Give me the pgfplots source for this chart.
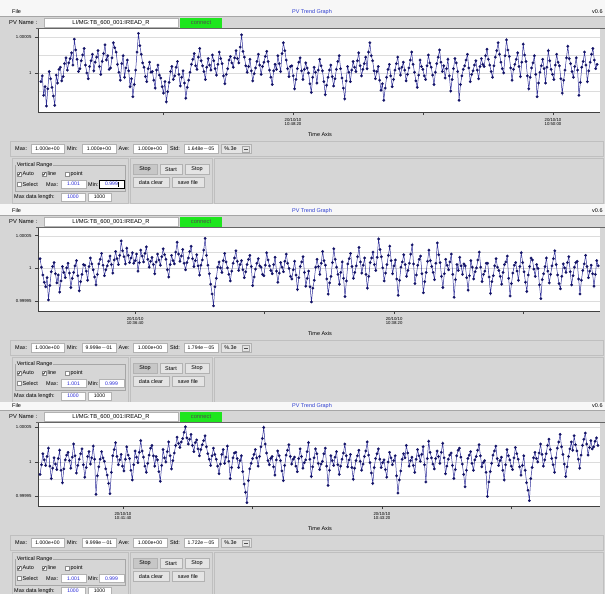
\documentclass[border=0pt]{standalone}
\usepackage{fontspec}
\setmainfont{Liberation Sans}
\usepackage{pgfplots}
\pgfplotsset{compat=1.18}
\usepackage{pgfplotstable}

\definecolor{guigray}{HTML}{D6D6D6}
\definecolor{menubg}{HTML}{F7F7F7}
\definecolor{connectgreen}{HTML}{1EE61E}
\definecolor{navy}{HTML}{121266}
\definecolor{traceline}{HTML}{30309A}
\definecolor{fieldblue}{HTML}{2828D8}
\definecolor{titleblue}{HTML}{2C3CD0}
\definecolor{btnbg}{HTML}{E4E4E4}
\definecolor{gridgray}{HTML}{DCDCDC}

\newcommand\fs[1]{\fontsize{#1}{#1}\selectfont}
\tikzset{lab/.style={font=\fs{5.5},inner sep=0pt}}

\newcommand\cbox[3]{%
  \draw[black!45,fill=white,line width=0.4bp] (#1,#2-2) rectangle (#1+4,#2+2);
  \ifnum#3=1 \draw[black,line width=0.5bp] (#1+0.7,#2) -- (#1+1.7,#2+1.3) -- (#1+3.4,#2-1.6);\fi}
\newcommand\field[6]{%
  \draw[black!30,fill=white,line width=0.4bp] (#1,#3) rectangle (#2,#4);
  \node[font=\fs{5.1},text=#6,inner sep=0pt] at ({(#1+#2)/2},{(#3+#4)/2}) {#5};}
\newcommand\btn[6]{%
  \draw[black!30,fill=#6,line width=0.4bp] (#1,#3) rectangle (#2,#4);
  \node[lab] at ({(#1+#2)/2},{(#3+#4)/2}) {#5};}

% #1 offset, #2 Min, #3 Std, #4 menu top, #5 focus
\newcommand\chrome[5]{%
\begin{scope}[x=1bp,y=-1bp,yshift=-#1bp]
  \fill[menubg] (0,#4) rectangle (605,16);
  \node[lab,anchor=west] at (12,12) {File};
  \node[lab,text=titleblue] at (312,12) {PV Trend Graph};
  \node[lab,anchor=west] at (592,12) {v0.6};
  \fill[guigray] (0,16) rectangle (605,210);
  \draw[black!35,line width=0.4bp] (0,16.2)--(605,16.2);
  \node[lab,font=\fs{5.8},anchor=west] at (9,22.7) {PV Name :};
  \draw[black!30,fill=white,line width=0.4bp] (44,18) rectangle (178,27.5);
  \node[lab,font=\fs{5.8}] at (111,22.7) {LI/MG:TB\_600\_001:IREAD\_R};
  \fill[connectgreen] (180,18) rectangle (222,27.5);
  \node[lab,font=\fs{5.8},text=black!70] at (201,22.7) {connect};
  \draw[black!60,line width=0.5bp] (36,28.4)--(605,28.4);
  \node[lab] at (320,135) {Time Axis};
  % stats row
  \draw[black!25,line width=0.4bp] (10,141.5) rectangle (603,156);
  \node[lab,anchor=west] at (15,149) {Max:};
  \field{31}{64}{144.5}{153.5}{1.000e+00}{black}
  \node[lab,anchor=west] at (67,149) {Min:};
  \field{82}{116}{144.5}{153.5}{#2}{black}
  \node[lab,anchor=west] at (118.5,149) {Ave:};
  \field{133}{167}{144.5}{153.5}{1.000e+00}{black}
  \node[lab,anchor=west] at (170,149) {Std:};
  \field{184}{218}{144.5}{153.5}{#3}{black}
  \draw[black!30,fill=btnbg,line width=0.4bp] (221,144.5) rectangle (251,153.5);
  \node[lab] at (230.5,149) {\%.3e};
  \draw[black!35,line width=0.4bp] (242.5,146) rectangle (249.5,152);
  \draw[black!70,line width=0.4bp] (244.3,149)--(247.7,149);
  % control area
  \draw[black!25,line width=0.4bp] (12,158) rectangle (128,203.5);
  \draw[black!25,line width=0.4bp] (130,158) rectangle (212,203.5);
  \draw[black!25,line width=0.4bp] (214,158) rectangle (603,203.5);
  \draw[black!35,line width=0.4bp] (15,165) rectangle (125,191);
  \node[lab,fill=guigray,inner sep=0.6bp,anchor=west] at (16,165) {Vertical Range};
  \cbox{17}{174}{1}\node[lab,anchor=west] at (22.5,174) {Auto};
  \cbox{42}{174}{1}\node[lab,anchor=west] at (47.5,174) {line};
  \cbox{65}{174}{0}\node[lab,anchor=west] at (70.5,174) {point};
  \cbox{17}{184.3}{0}\node[lab,anchor=west] at (22.5,184.3) {Select};
  \node[lab,anchor=west] at (46,184.3) {Max:};
  \field{61}{86}{180}{188.5}{1.001}{fieldblue}
  \node[lab,anchor=west] at (88,184.3) {Min:};
  \field{99}{124}{180}{188.5}{0.999}{fieldblue}
  \ifnum#5=1
    \draw[black,line width=0.7bp] (99,180) rectangle (124,188.5);
    \draw[black,line width=0.5bp] (118.5,181.5)--(118.5,187);
  \fi
  \node[lab,anchor=west] at (14,197) {Max data length:};
  \field{61}{85}{193}{201}{1000}{fieldblue}
  \field{88}{111}{193}{201}{1000}{black}
  \btn{133}{157}{164}{174.5}{Stop}{black!22}
  \btn{160}{182}{164}{174.5}{Start}{btnbg}
  \btn{185}{209}{164}{174.5}{Stop}{btnbg}
  \btn{133}{169}{177}{187.5}{data clear}{btnbg}
  \btn{172}{204}{177}{187.5}{save file}{btnbg}
\end{scope}}

\pgfplotsset{
  trend/.style={
    anchor=north west, width=562bp, height=83bp, scale only axis,
    axis background/.style={fill=white},
    axis x line*=bottom, axis y line*=left,
    axis line style={black!75, line width=0.5bp},
    tick align=outside, major tick length=3bp, minor tick length=0pt,
    tick style={black!75, line width=0.5bp},
    ymajorgrids, yminorgrids,
    major grid style={gridgray, line width=0.4bp},
    minor grid style={gridgray, line width=0.4bp},
    minor ytick={-2.5,2.5},
    yticklabel style={font=\fs{4.3}},
    xticklabel style={font=\fs{4.3}, align=center},
    /pgf/number format/assume math mode=true,
  },
  trace/.style={traceline, line width=0.5bp, mark=*, mark size=1.3bp,
    mark options={fill=navy, draw=navy, line width=0.2bp}},
}

% deviations from 1, in units of 1e-5
\pgfplotstableread[row sep=\\]{y\\
-1.2\\-0.4\\-3.1\\-1.9\\-4.6\\-2.2\\0.2\\-0.8\\-2.0\\-3.2\\-4.5\\-0.3\\-1.4\\0.5\\0.8\\-1.1\\-0.5\\1.3\\2.1\\0.4\\
1.4\\2.0\\2.8\\1.1\\4.7\\3.2\\1.9\\0.2\\0.6\\1.7\\2.5\\3.4\\1.1\\0.0\\-0.8\\0.9\\1.7\\2.6\\0.3\\1.5\\
2.2\\3.1\\0.9\\-0.2\\1.6\\2.7\\3.9\\1.8\\2.4\\0.5\\0.7\\2.1\\4.2\\3.5\\2.9\\1.2\\0.1\\-1.0\\1.3\\2.4\\
-0.6\\0.7\\1.8\\0.3\\-1.9\\-0.8\\-3.3\\-1.6\\0.4\\2.9\\5.5\\3.8\\2.6\\1.4\\0.8\\-0.5\\-1.2\\0.6\\1.5\\0.1\\
0.2\\-1.0\\-2.1\\0.4\\1.1\\-0.3\\-0.7\\-1.9\\-2.8\\-1.2\\-4.0\\-2.6\\-1.3\\0.2\\0.9\\-0.9\\-0.4\\0.8\\1.6\\-0.2\\
-1.8\\-0.6\\0.3\\-1.4\\-3.5\\-2.0\\-1.0\\0.1\\1.2\\1.9\\2.7\\1.0\\0.5\\2.2\\3.4\\1.7\\1.0\\0.2\\-0.9\\0.8\\
2.0\\1.1\\0.4\\2.5\\1.7\\0.6\\-0.3\\1.2\\2.9\\2.0\\1.3\\-0.4\\-1.5\\-0.2\\0.6\\1.8\\2.3\\1.4\\0.8\\2.1\\
3.1\\2.0\\1.4\\3.6\\5.3\\3.0\\2.2\\1.0\\0.1\\0.9\\1.9\\0.3\\-1.1\\-0.1\\0.7\\1.6\\2.6\\1.1\\-0.2\\0.9\\
1.5\\2.3\\3.0\\1.6\\0.4\\-0.6\\-1.6\\0.3\\1.2\\0.5\\2.4\\1.3\\0.2\\2.7\\4.2\\3.1\\1.8\\0.6\\-0.5\\0.9\\
1.0\\-0.4\\-2.2\\-0.9\\0.6\\1.5\\2.1\\0.3\\-0.9\\0.5\\1.4\\0.7\\0.0\\-1.5\\-2.7\\-0.6\\0.8\\0.1\\-1.4\\0.4\\
1.9\\1.0\\0.3\\-1.2\\-3.0\\-1.7\\-0.6\\0.4\\1.1\\-0.5\\-1.8\\-0.8\\0.5\\1.6\\2.4\\0.6\\-0.7\\-2.1\\-3.6\\-1.1\\
0.9\\0.1\\-1.2\\0.4\\1.6\\0.8\\0.2\\1.7\\2.8\\1.0\\-0.4\\0.5\\1.3\\2.2\\0.6\\2.9\\4.2\\2.4\\1.7\\0.3\\
-0.8\\0.2\\0.9\\-1.0\\-2.4\\-1.5\\-3.8\\-2.1\\-0.6\\0.5\\1.2\\-0.4\\-1.9\\-0.9\\0.4\\1.3\\2.2\\0.6\\-0.3\\0.8\\
1.5\\0.4\\-1.1\\-0.2\\0.7\\1.8\\2.9\\1.2\\0.1\\-1.1\\-2.0\\-0.3\\1.8\\0.9\\0.5\\-0.4\\-0.9\\1.0\\2.5\\1.4\\
0.8\\-0.3\\-1.6\\0.1\\1.3\\2.2\\3.2\\1.5\\0.2\\1.0\\-0.7\\0.6\\1.9\\-0.4\\-2.5\\-0.9\\0.6\\2.0\\1.4\\0.2\\
-3.8\\-1.6\\-0.4\\0.5\\1.0\\1.8\\2.6\\0.7\\-1.2\\-0.2\\0.3\\1.1\\1.7\\0.4\\-0.8\\0.9\\2.0\\1.2\\0.9\\2.4\\
3.3\\1.9\\1.1\\0.2\\-0.6\\1.0\\2.2\\3.1\\4.2\\2.6\\1.5\\0.6\\0.0\\2.4\\4.6\\3.2\\2.3\\0.7\\-1.0\\0.5\\
1.2\\1.9\\2.8\\0.9\\-0.5\\1.5\\4.0\\2.5\\1.6\\-0.4\\-2.2\\-0.6\\0.7\\1.4\\2.4\\-0.2\\-3.3\\-1.4\\0.1\\1.0\\
1.9\\0.6\\-1.4\\0.8\\3.1\\1.7\\0.5\\-0.2\\-0.9\\1.1\\2.6\\1.5\\1.0\\-0.8\\-2.8\\-1.0\\0.4\\2.1\\3.7\\2.0\\
1.3\\0.2\\-0.6\\0.9\\2.1\\0.4\\-3.1\\-1.3\\0.8\\1.6\\2.9\\1.1\\-1.2\\0.3\\1.5\\2.6\\3.4\\1.8\\0.6\\1.2\\
}\dataA

\pgfplotstableread[row sep=\\]{y\\
1.5\\0.2\\-1.0\\-2.1\\-2.8\\-1.4\\-4.8\\-2.6\\-0.5\\0.3\\0.9\\-0.8\\-2.2\\-1.0\\-3.6\\-1.9\\0.3\\-0.6\\-1.4\\0.1\\
0.8\\-0.7\\-2.9\\-1.5\\-0.6\\0.4\\1.2\\-1.1\\-3.4\\-2.0\\-0.9\\0.6\\0.5\\-0.4\\-1.8\\0.3\\1.6\\0.7\\-0.2\\-1.3\\
-2.5\\-0.9\\0.7\\1.4\\2.3\\0.5\\-1.1\\-0.2\\0.4\\1.1\\1.9\\0.6\\-0.7\\1.3\\2.6\\1.5\\0.6\\2.0\\4.2\\2.7\\
1.8\\0.7\\3.1\\2.0\\0.9\\1.6\\2.4\\0.8\\1.2\\2.2\\-0.4\\0.9\\2.8\\1.9\\1.0\\2.3\\3.3\\1.4\\0.2\\1.1\\
1.7\\0.6\\-0.8\\1.0\\2.2\\1.3\\0.5\\1.8\\3.0\\2.1\\1.4\\-0.2\\-1.3\\0.6\\2.0\\1.2\\0.7\\2.5\\4.0\\2.2\\
1.1\\1.9\\2.9\\0.8\\-0.2\\0.9\\1.6\\2.6\\3.4\\1.5\\0.3\\1.2\\2.1\\0.4\\-1.0\\0.5\\1.3\\2.8\\4.6\\2.0\\
0.5\\-0.8\\-2.4\\-3.9\\-5.7\\-2.8\\-1.5\\0.2\\1.0\\0.1\\-0.6\\1.2\\2.3\\1.0\\0.1\\-0.9\\-1.9\\-0.4\\0.8\\1.6\\
2.7\\1.1\\-0.3\\0.6\\1.2\\-0.2\\-1.4\\-0.5\\0.6\\1.4\\2.0\\0.3\\-2.6\\-1.3\\-0.1\\0.8\\1.5\\0.4\\0.2\\-0.9\\
-1.1\\0.5\\2.4\\1.3\\0.4\\-0.3\\-0.8\\0.6\\1.7\\-0.4\\-2.1\\-0.7\\0.9\\0.2\\-0.5\\1.1\\2.2\\0.8\\0.0\\-1.2\\
-1.6\\-0.2\\1.1\\-1.0\\-3.2\\-1.4\\0.3\\1.0\\1.8\\-0.6\\-2.7\\-1.5\\-0.4\\-2.8\\-5.1\\-3.0\\-1.8\\0.2\\1.4\\0.3\\
-0.9\\0.8\\2.6\\1.2\\0.5\\-1.6\\-3.9\\-2.2\\-1.2\\0.9\\3.0\\1.4\\0.2\\-0.9\\-2.4\\-0.6\\1.0\\-1.5\\-4.3\\-1.9\\
0.7\\1.5\\2.3\\0.3\\-1.5\\-0.6\\0.4\\1.8\\3.2\\1.0\\-0.7\\0.5\\1.6\\-0.9\\-3.0\\-1.2\\0.9\\1.6\\2.5\\0.6\\
-0.3\\1.7\\4.5\\2.9\\1.8\\0.1\\-1.9\\-0.7\\0.6\\2.0\\3.4\\1.2\\-0.8\\0.4\\1.3\\-1.6\\-4.1\\-1.8\\0.2\\1.0\\
2.1\\0.6\\-1.2\\-0.3\\0.8\\2.2\\3.6\\0.7\\-2.3\\-1.0\\0.5\\1.4\\1.9\\-0.8\\-3.7\\-2.0\\-0.6\\1.1\\2.8\\1.2\\
0.3\\-0.6\\-1.7\\0.8\\3.9\\2.1\\0.9\\-1.2\\-2.9\\-0.8\\1.4\\0.5\\-0.2\\1.0\\2.2\\-0.9\\-4.4\\-1.7\\0.6\\-0.3\\
1.7\\0.4\\-0.9\\0.7\\0.4\\-1.4\\-3.3\\-1.1\\1.2\\0.2\\-1.6\\-0.5\\0.1\\1.3\\2.5\\0.2\\-2.0\\-0.9\\-0.4\\0.8\\
0.8\\-1.3\\-3.8\\-2.0\\-1.1\\0.4\\1.5\\0.2\\-0.3\\-1.2\\-2.4\\-0.6\\0.6\\1.0\\1.9\\-1.5\\-4.2\\-2.3\\-0.7\\0.5\\
0.9\\-0.4\\-1.8\\0.3\\2.4\\0.9\\-0.5\\-2.1\\-3.5\\-1.0\\0.3\\1.6\\1.3\\-0.1\\-1.2\\0.6\\0.0\\-2.5\\-4.6\\-1.7\\
-0.8\\0.3\\1.6\\-0.4\\-2.2\\-0.9\\0.4\\1.5\\2.7\\0.6\\-1.0\\-2.3\\-3.1\\-1.2\\0.7\\0.1\\-0.6\\0.9\\1.8\\-0.5\\
-2.5\\-1.1\\0.2\\0.9\\1.1\\-1.6\\-3.9\\-1.8\\-0.3\\0.7\\2.0\\0.3\\-1.4\\-0.4\\0.5\\-0.8\\-2.7\\-0.9\\1.2\\0.4\\
}\dataB

\pgfplotstableread[row sep=\\]{y\\
-1.8\\-0.4\\1.2\\0.3\\-0.5\\0.8\\2.0\\-0.6\\-2.4\\-0.9\\0.6\\-0.3\\-1.1\\0.5\\1.7\\-1.2\\-3.0\\-1.0\\0.3\\1.0\\
1.4\\0.2\\-0.9\\0.7\\2.6\\0.9\\-1.6\\-0.5\\0.4\\1.2\\1.9\\-0.4\\-2.2\\-0.8\\0.8\\1.5\\-0.3\\0.6\\2.3\\0.4\\
-4.7\\-2.0\\-0.7\\0.4\\1.5\\0.6\\0.1\\-1.0\\-1.9\\-3.1\\-4.6\\-1.5\\0.9\\1.8\\2.8\\0.8\\-0.4\\0.3\\1.1\\-0.6\\
-1.3\\0.4\\2.2\\1.0\\0.5\\-1.2\\-2.6\\-0.4\\1.6\\0.7\\-0.1\\1.4\\3.1\\1.6\\0.7\\-0.6\\-1.5\\-0.2\\1.0\\2.0\\
2.4\\0.9\\-0.6\\0.8\\0.3\\-1.4\\-2.8\\-0.5\\1.8\\0.6\\0.0\\1.5\\2.9\\0.9\\-1.0\\0.2\\1.3\\2.4\\3.6\\2.7\\
2.1\\2.9\\3.4\\4.3\\5.1\\3.5\\2.6\\3.3\\4.0\\2.4\\1.5\\2.8\\3.2\\1.9\\0.9\\1.8\\2.5\\3.1\\3.8\\2.2\\
1.2\\0.4\\-0.5\\0.9\\2.0\\1.1\\0.4\\-0.6\\-1.7\\-0.3\\1.1\\1.8\\-0.2\\0.7\\2.3\\0.1\\-2.4\\-0.8\\0.6\\1.3\\
1.4\\0.5\\-0.8\\0.2\\0.9\\-1.4\\-3.2\\-4.4\\-5.9\\-2.7\\-1.0\\-0.2\\0.5\\1.1\\1.8\\0.6\\-0.6\\0.8\\2.2\\3.4\\
5.0\\2.6\\1.3\\0.2\\-0.4\\0.5\\0.8\\-0.7\\-1.9\\0.3\\1.6\\0.9\\0.2\\-1.3\\-2.7\\-0.5\\1.0\\1.7\\2.5\\0.8\\
-0.3\\0.4\\0.7\\-0.6\\-1.4\\0.5\\1.9\\0.8\\-0.9\\-0.1\\0.3\\1.5\\2.8\\0.4\\-2.1\\-0.7\\0.6\\1.9\\1.2\\-0.2\\
-1.1\\-0.3\\0.1\\1.2\\2.0\\-0.6\\-3.4\\-1.2\\0.9\\0.2\\-0.5\\0.7\\1.5\\-0.4\\-1.8\\-0.6\\0.4\\1.3\\2.6\\0.9\\
-0.7\\0.3\\1.1\\-0.8\\-2.5\\-0.9\\0.2\\0.9\\1.7\\0.1\\-1.2\\-0.3\\0.8\\1.6\\2.9\\1.0\\-0.1\\-1.6\\-3.1\\-0.8\\
0.5\\1.2\\1.9\\0.4\\-0.8\\-0.1\\0.3\\-1.1\\-2.2\\0.0\\1.4\\0.6\\-0.4\\0.2\\0.9\\-2.0\\-4.5\\-2.6\\-1.3\\0.4\\
1.2\\0.6\\2.4\\1.3\\-0.6\\0.2\\0.7\\-0.5\\-1.5\\0.4\\1.8\\0.9\\0.1\\1.1\\2.2\\-0.4\\-2.9\\0.5\\3.0\\1.4\\
0.6\\-0.3\\-1.0\\0.5\\1.6\\0.8\\-0.2\\1.4\\2.7\\0.6\\-1.7\\-0.6\\0.4\\1.0\\1.3\\-0.5\\-2.4\\-1.1\\0.9\\1.7\\
2.0\\0.7\\-0.3\\-1.8\\-3.6\\-1.2\\0.5\\1.0\\1.5\\-0.2\\-1.2\\0.3\\0.8\\1.7\\2.5\\0.9\\-0.7\\-0.1\\0.2\\-1.5\\
-5.0\\-2.9\\-1.4\\-0.2\\1.0\\1.6\\2.3\\0.5\\-0.5\\0.2\\0.7\\-1.2\\-2.6\\-0.4\\1.8\\0.9\\0.3\\-0.6\\-1.1\\0.6\\
2.1\\1.2\\0.4\\-0.7\\-1.9\\-0.5\\0.9\\-1.2\\-3.0\\-4.1\\-5.6\\-2.4\\-0.8\\0.6\\1.4\\0.5\\0.0\\1.3\\2.6\\1.1\\
-0.6\\0.3\\1.2\\2.4\\3.3\\1.8\\0.5\\-0.4\\-1.5\\0.6\\2.0\\2.9\\4.0\\2.2\\1.1\\-0.3\\-2.1\\-0.7\\0.8\\1.9\\
2.9\\1.7\\3.8\\2.5\\1.6\\0.4\\-0.9\\1.0\\2.4\\3.3\\4.2\\2.6\\1.0\\2.1\\3.1\\1.9\\2.2\\3.0\\3.5\\2.4\\
}\dataC

\begin{document}
\begin{tikzpicture}
\useasboundingbox (0,0) rectangle (605bp,-594bp);
\clip (0,0) rectangle (605bp,-594bp);
\fill[white] (0,0) rectangle (605bp,-594bp);

% ---------- panel 1 ----------
\chrome{0}{1.000e+00}{1.648e$-$05}{0}{1}
\begin{axis}[trend, at={(38bp,-29bp)},
  xmin=-98.1, xmax=118.1, ymin=-5.42, ymax=6.11,
  ytick={0,5}, yticklabels={1,1.00005},
  xtick={-50,0,50,100},
  xticklabels={{},{20/10/10\\10:48:20},{},{20/10/10\\10:50:00}}]
\addplot[trace] table[x expr=\coordindex*0.5363-97, y index=0]{\dataA};
\end{axis}

% ---------- panel 2 ----------
\chrome{199}{9.999e$-$01}{1.794e$-$05}{5}{0}
\begin{axis}[trend, at={(38bp,-228bp)},
  xmin=-37.5, xmax=179.5, ymin=-6.49, ymax=6.18,
  ytick={-5,0,5}, yticklabels={0.99995,1,1.00005},
  xtick={0,50,100,150},
  xticklabels={{20/10/10\\10:36:40},{},{20/10/10\\10:38:20},{}}]
\addplot[trace] table[x expr=\coordindex*0.5401-36.7, y index=0]{\dataB};
\end{axis}

% ---------- panel 3 ----------
\chrome{394}{9.999e$-$01}{1.722e$-$05}{7.5}{0}
\begin{axis}[trend, at={(38bp,-423bp)},
  xmin=-32.8, xmax=184.2, ymin=-6.38, ymax=5.65,
  ytick={-5,0,5}, yticklabels={0.99995,1,1.00005},
  xtick={0,50,100,150},
  xticklabels={{20/10/10\\10:41:40},{},{20/10/10\\10:43:20},{}}]
\addplot[trace] table[x expr=\coordindex*0.5398-32, y index=0]{\dataC};
\end{axis}
\end{tikzpicture}
\end{document}
